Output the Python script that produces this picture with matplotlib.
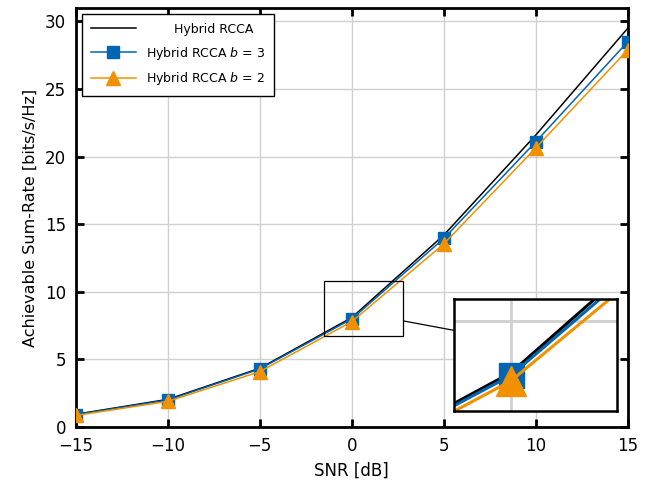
import matplotlib.pyplot as plt
import numpy as np
from matplotlib.patches import Rectangle, ConnectionPatch

# data
snr = [-15, -10, -5, 0, 5, 10, 15]
rcca = [0.95, 2.05, 4.35, 8.1, 14.2, 21.6, 29.5]
rcca_b3 = [0.92, 2.0, 4.3, 8.0, 13.95, 21.1, 28.5]
rcca_b2 = [0.86, 1.9, 4.1, 7.8, 13.55, 20.65, 27.9]

blue = '#0066b3'
orange = '#f29100'

fig = plt.figure(figsize=(6.48, 4.87), dpi=100)
ax = fig.add_axes([0.117, 0.123, 0.852, 0.861])

ax.plot(snr, rcca, color='black', lw=1.1, label='       Hybrid RCCA', zorder=3)
ax.plot(snr, rcca_b3, color=blue, lw=1.1, marker='s', ms=8, label='Hybrid RCCA $b$ = 3', zorder=3)
ax.plot(snr, rcca_b2, color=orange, lw=1.1, marker='^', ms=10, label='Hybrid RCCA $b$ = 2', zorder=3)

ax.set_xlim(-15, 15)
ax.set_ylim(0, 31)
ax.set_xticks([-15, -10, -5, 0, 5, 10, 15])
ax.set_yticks([0, 5, 10, 15, 20, 25, 30])
ax.set_xticklabels(['\u221215', '\u221210', '\u22125', '0', '5', '10', '15'])
ax.grid(color='#d0d0d0', lw=1)
ax.tick_params(direction='in', length=6, width=2, top=True, right=True, labelsize=12)
ax.tick_params(axis='x', pad=7)
ax.tick_params(axis='y', pad=7)
for s in ax.spines.values():
    s.set_linewidth(2)
ax.set_xlabel('SNR [dB]', fontsize=12, labelpad=5)
ax.set_ylabel('Achievable Sum-Rate [bits/s/Hz]', fontsize=11.5, labelpad=5)

leg = ax.legend(loc='upper left', fontsize=9, fancybox=False, edgecolor='black',
                framealpha=1, handlelength=3.6, borderpad=0.7, labelspacing=0.7)
leg.get_frame().set_linewidth(1)

# zoom box
x0, x1, y0, y1 = -1.5, 2.8, 6.7, 10.8
ax.add_patch(Rectangle((x0, y0), x1 - x0, y1 - y0, fill=False, ec='black', lw=0.9, zorder=4))

ins = fig.add_axes([454 / 648, 1 - 411 / 487, 163 / 648, 112 / 487])
ins.plot(snr, rcca, color='black', lw=2.2)
ins.plot(snr, rcca_b3, color=blue, lw=2.2, marker='s', ms=18)
ins.plot(snr, rcca_b2, color=orange, lw=2.2, marker='^', ms=22)
ins.set_xlim(x0, x1)
ins.set_ylim(y0, y1)
ins.set_xticks([0])
ins.set_yticks([10])
ins.grid(color='#d0d0d0', lw=2)
ins.tick_params(length=0, labelbottom=False, labelleft=False)
for s in ins.spines.values():
    s.set_linewidth(1.8)

con = ConnectionPatch(xyA=(x1, 7.85), coordsA=ax.transData, xyB=(0, 0.72),
                      coordsB=ins.transAxes, color='black', lw=0.9)
fig.add_artist(con)

fig.savefig('out.png', dpi=100)
